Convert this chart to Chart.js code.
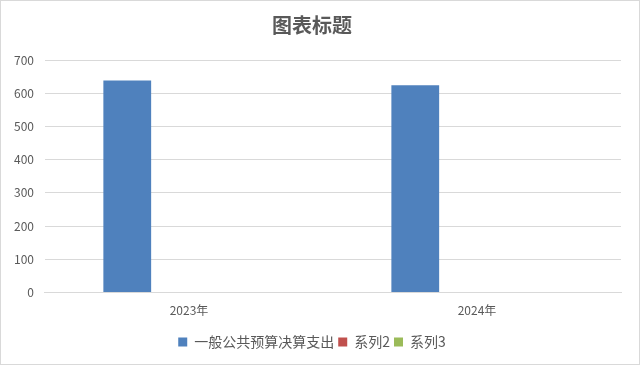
<!DOCTYPE html>
<html>
<head>
<meta charset="utf-8">
<script src="https://cdn.jsdelivr.net/npm/chart.js@4/dist/chart.umd.min.js"></script>
<style>
    html, body { margin: 0; padding: 0; background: #fff; }
    #wrap { position: relative; width: 638px; height: 363px; border: 1px solid #d9d9d9; }
</style>
</head>
<body>
<div id="wrap"><canvas id="chartBudget"></canvas></div>
<script>
const CATEGORIES = ["2023年", "2024年"];
const SERIES_NAMES = ["一般公共预算决算支出", "系列2", "系列3"];
const spending = [638, 624];
const series2 = [null, null];
const series3 = [null, null];
const Y_TICKS = [0, 100, 200, 300, 400, 500, 600, 700];

const FONT = "'Noto Sans CJK SC', 'Noto Sans', sans-serif";
const TEXT_COLOR = "#595959";

const chartBudget = createBudgetChart();

function createBudgetChart() {
    const data = {
        labels: CATEGORIES,
        datasets: [{
            label: SERIES_NAMES[0],
            data: spending,
            backgroundColor: "rgb(79, 129, 189)",
        },
        {
            label: SERIES_NAMES[1],
            data: series2,
            backgroundColor: "rgb(192, 80, 77)",
        },
        {
            label: SERIES_NAMES[2],
            data: series3,
            backgroundColor: "rgb(155, 187, 89)",
        },
        ]
    };

    const config = {
        type: 'bar',
        data: data,
        options: {
            responsive: true,
            maintainAspectRatio: false,
            animation: false,
            categoryPercentage: 0.643,
            barPercentage: 0.774,
            layout: {
                padding: { left: 2, right: 18, top: 8, bottom: 5 }
            },
            plugins: {
                title: {
                    display: true,
                    text: '图表标题',
                    color: TEXT_COLOR,
                    font: { family: FONT, size: 20, weight: 'bold' },
                    padding: { top: 4, bottom: 23 }
                },
                legend: {
                    position: 'bottom',
                    labels: {
                        color: TEXT_COLOR,
                        font: { family: FONT, size: 14 },
                        boxWidth: 9,
                        boxHeight: 9,
                        padding: 4
                    }
                },
                tooltip: { enabled: false }
            },
            scales: {
                x: {
                    grid: { display: false },
                    border: { display: true, color: "#d9d9d9" },
                    ticks: {
                        color: TEXT_COLOR,
                        font: { family: FONT, size: 12 },
                        padding: 3
                    },
                    // leave room between the year labels and the legend
                    afterFit: (scale) => {
                        scale.height += 10;
                    }
                },
                y: {
                    min: 0,
                    max: Y_TICKS[Y_TICKS.length - 1],
                    afterBuildTicks: (axis) => {
                        axis.ticks = Y_TICKS.map(v => ({ value: v }));
                    },
                    border: { display: false },
                    grid: {
                        color: "#d9d9d9",
                        drawTicks: false
                    },
                    ticks: {
                        color: TEXT_COLOR,
                        font: { family: FONT, size: 12 },
                        padding: 11
                    }
                }
            }
        }
    };

    return new Chart(
        document.getElementById('chartBudget'),
        config
    );
}
</script>
</body>
</html>
